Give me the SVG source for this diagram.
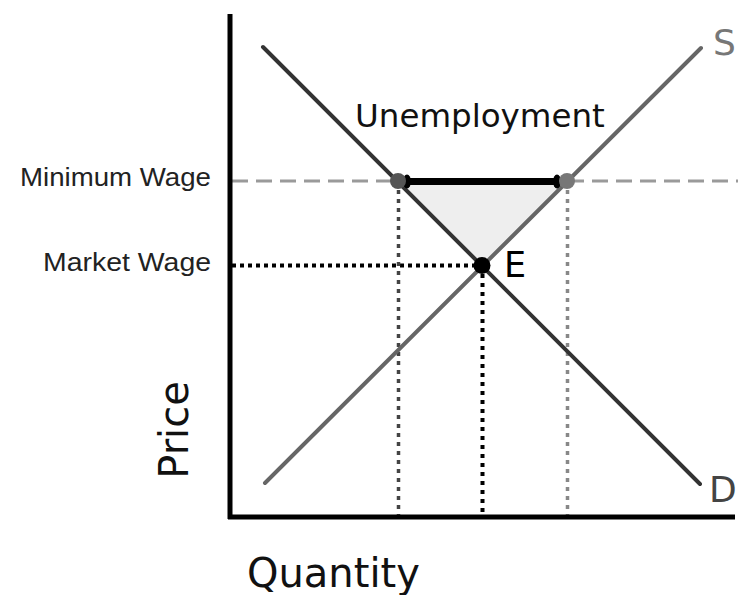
<svg xmlns="http://www.w3.org/2000/svg" width="738" height="595" viewBox="0 0 738 595">
<style>
.lbl{font-family:"Liberation Sans",Arial,sans-serif;font-size:26px;fill:#222}
.big{font-family:"DejaVu Sans",Verdana,sans-serif;font-size:40px}
.edge{font-family:"DejaVu Sans",Verdana,sans-serif;font-size:36px}
.dot{fill:none;stroke-linecap:butt}
</style>
<rect width="738" height="595" fill="#fff"/>
<g id="surplus">
<polygon points="398,181 567,181 482,266" fill="#eeeeee"/>
</g>
<g id="connectors">
<line x1="232" y1="181" x2="738" y2="181" stroke="#9a9a9a" stroke-width="3" stroke-dasharray="16 8"/>
<line x1="232" y1="265.5" x2="476" y2="265.5" stroke="#000" stroke-width="4" stroke-dasharray="4 4" class="dot"/>
<line x1="398.5" y1="190" x2="398.5" y2="515" stroke="#444" stroke-width="3.5" stroke-dasharray="4 5" class="dot"/>
<line x1="482.5" y1="274" x2="482.5" y2="515" stroke="#000" stroke-width="4" stroke-dasharray="4 5" class="dot"/>
<line x1="567.5" y1="190" x2="567.5" y2="515" stroke="#888" stroke-width="3.5" stroke-dasharray="4 5" class="dot"/>
</g>
<g id="demand">
<line x1="263" y1="47" x2="700" y2="484" stroke="#333" stroke-width="4" stroke-linecap="round"/>
<text x="709" y="502" class="edge" fill="#444">D</text>
</g>
<g id="supply">
<line x1="265" y1="483" x2="701" y2="48" stroke="#666" stroke-width="4" stroke-linecap="round"/>
<text x="713" y="55" class="edge" fill="#777">S</text>
</g>
<g id="unemployment">
<line x1="406" y1="181.5" x2="558" y2="181.5" stroke="#000" stroke-width="7"/>
<ellipse cx="407" cy="181.5" rx="4" ry="7" fill="#000"/>
<ellipse cx="557" cy="181.5" rx="4" ry="7" fill="#000"/>
<circle cx="398" cy="181" r="8" fill="#555"/>
<circle cx="567" cy="181" r="8" fill="#777"/>
<text x="355" y="127" font-family="'DejaVu Sans',Verdana,sans-serif" font-size="32.5" fill="#111">Unemployment</text>
</g>
<g id="equilibrium">
<circle cx="482" cy="265.5" r="8.5" fill="#000"/>
<text x="504" y="277" font-family="'DejaVu Sans',Verdana,sans-serif" font-size="35" fill="#000">E</text>
</g>
<g id="axes">
<line x1="230" y1="14" x2="230" y2="519" stroke="#000" stroke-width="5"/>
<line x1="228" y1="517" x2="735" y2="517" stroke="#000" stroke-width="5"/>
<text x="247" y="587" class="big" fill="#111">Quantity</text>
<text transform="translate(188,430) rotate(-90)" text-anchor="middle" class="big" fill="#111">Price</text>
</g>
<g id="wage-labels">
<text x="20" y="186" class="lbl" textLength="191" lengthAdjust="spacingAndGlyphs">Minimum Wage</text>
<text x="43" y="271" class="lbl" textLength="168" lengthAdjust="spacingAndGlyphs">Market Wage</text>
</g>
</svg>
